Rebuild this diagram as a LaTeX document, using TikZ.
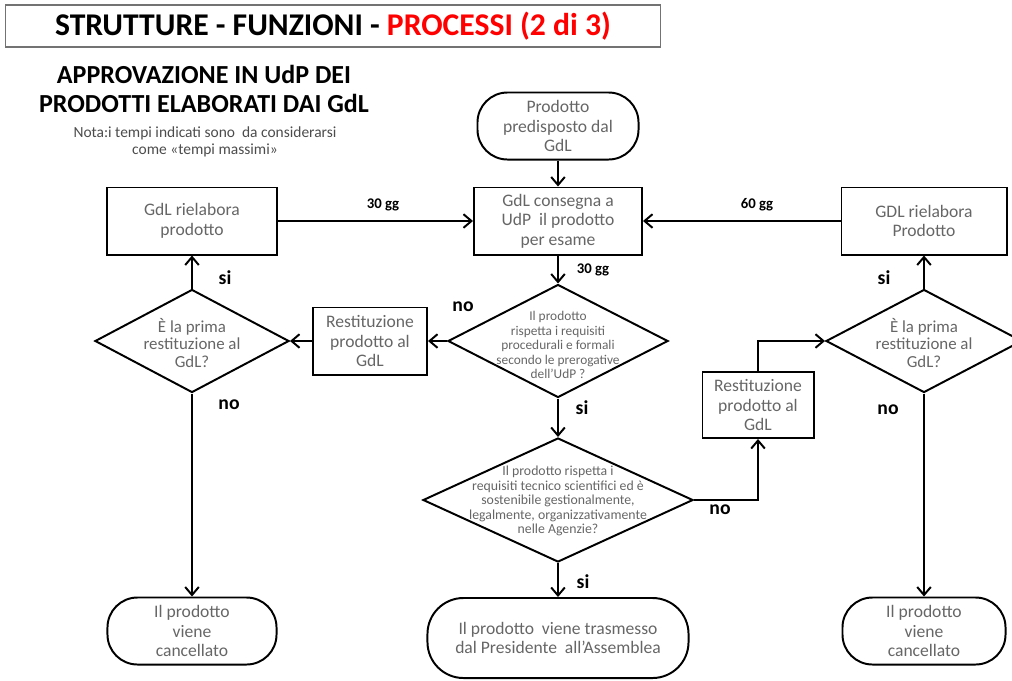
\documentclass[tikz,border=0pt]{standalone}
\usepackage{fontspec}
\setmainfont{Carlito}
\usetikzlibrary{shapes.geometric,arrows.meta,positioning}

\tikzset{
    >={Straight Barb[length=2mm,width=3.4mm]},
    link/.style={->, line width=1.4pt},
    box/.style={draw, rectangle, line width=1.4pt, align=center, inner sep=2pt,
        text=black!60, font=\fontsize{12.5}{14}\selectfont},
    term/.style={box, rounded corners=0.75cm},
    decision/.style={draw, diamond, line width=1.4pt, inner sep=0pt},
    dtext/.style={align=center, text=black!60},
    tag/.style={font=\bfseries\fontsize{14}{16}\selectfont},
    gg/.style={font=\bfseries\fontsize{10.5}{12}\selectfont},
}

\begin{document}
\begin{tikzpicture}[x=0.025cm, y=-0.025cm]
    \useasboundingbox (0,0) rectangle (1012,680);

    % titolo e nota
    \node[draw=black!55, line width=0.8pt, minimum width=16.375cm, minimum height=1.05cm,
        font=\bfseries\fontsize{22.5}{26}\selectfont] (title) at (333,26)
        {STRUTTURE - FUNZIONI - \textcolor{red}{PROCESSI (2 di 3)}};
    \node[align=center, font=\bfseries\fontsize{18.5}{20}\selectfont] (head) at (204,89)
        {APPROVAZIONE IN UdP DEI\\PRODOTTI ELABORATI DAI GdL};
    \node[align=center, text=black!70, font=\fontsize{11}{12.5}\selectfont] (nota) at (205,142)
        {Nota:i tempi indicati sono~ da considerarsi\\come «tempi massimi»};

    % colonna centrale
    \node[term, minimum width=4.025cm, minimum height=1.675cm] (start) at (558,126)
        {Prodotto\\predisposto dal\\GdL};
    \node[box, minimum width=4.2cm, minimum height=1.675cm] (consegna) at (558,221)
        {GdL consegna a\\UdP~ il prodotto\\per esame};
    \node[decision, minimum width=5.5cm, minimum height=2.825cm] (check1) at (558,341) {};
    \node[dtext, font=\fontsize{9.5}{10.3}\selectfont] (check1txt) at (558,345)
        {Il prodotto\\rispetta i requisiti\\procedurali e formali\\secondo le prerogative\\dell'UdP ?};
    \node[decision, minimum width=6.75cm, minimum height=3.1cm] (check2) at (558,500) {};
    \node[dtext, font=\fontsize{9.8}{10.3}\selectfont] (check2txt) at (558,501)
        {Il prodotto rispetta i\\requisiti tecnico scientifici ed è\\sostenibile gestionalmente,\\legalmente, organizzativamente\\nelle Agenzie?};
    \node[term, rounded corners=0.9cm, minimum width=6.525cm, minimum height=2cm] (fineM) at (558,638)
        {Il prodotto~ viene trasmesso\\dal Presidente~ all'Assemblea};

    % ramo sinistro
    \node[box, minimum width=4.25cm, minimum height=1.675cm] (rielL) at (192,221)
        {GdL rielabora\\prodotto};
    \node[box, minimum width=2.85cm, minimum height=1.675cm] (restL) at (370,341)
        {Restituzione\\prodotto al\\GdL};
    \node[decision, minimum width=4.85cm, minimum height=2.575cm] (primaL) at (192,341) {};
    \node[dtext, font=\fontsize{12}{12.5}\selectfont] (primaLtxt) at (192,343)
        {È la prima\\restituzione al\\GdL?};
    \node[term, minimum width=4.225cm, minimum height=1.675cm] (fineL) at (192,631)
        {Il prodotto\\viene\\cancellato};

    % ramo destro
    \node[box, minimum width=4.125cm, minimum height=1.675cm] (rielR) at (924,221)
        {GDL rielabora\\Prodotto};
    \node[box, minimum width=2.775cm, minimum height=1.65cm] (restR) at (758,405)
        {Restituzione\\prodotto al\\GdL};
    \node[decision, minimum width=4.9cm, minimum height=2.575cm] (primaR) at (924,341) {};
    \node[dtext, font=\fontsize{12}{12.5}\selectfont] (primaRtxt) at (924,343)
        {È la prima\\restituzione al\\GdL?};
    \node[term, minimum width=4.075cm, minimum height=1.675cm] (fineR) at (924,631)
        {Il prodotto\\viene\\cancellato};

    % collegamenti
    \draw[link] (start) -- (consegna);
    \draw[link] (rielL) -- (consegna);
    \draw[link] (rielR) -- (consegna);
    \draw[link] (consegna) -- (check1);
    \draw[link] (check1.west) -- (restL);
    \draw[link] (restL) -- (primaL.east);
    \draw[link] (primaL.north) -- (rielL);
    \draw[link] (primaL.south) -- (fineL);
    \draw[link] (check1.south) -- (check2.north);
    \draw[link] (check2.south) -- (fineM);
    \draw[link] (check2.east) -- (check2.east -| restR) -- (restR.south);
    \draw[link] (restR.north) |- (primaR.west);
    \draw[link] (primaR.north) -- (rielR);
    \draw[link] (primaR.south) -- (fineR);

    % etichette
    \node[gg] (gg1) at (383,205) {30 gg};
    \node[gg] (gg2) at (757,205) {60 gg};
    \node[gg] (gg3) at (593,270) {30 gg};
    \node[tag] (no1) at (463,307) {no};
    \node[tag] (si1) at (582,408) {si};
    \node[tag] (siL) at (225,278) {si};
    \node[tag] (noL) at (229,405) {no};
    \node[tag] (no2) at (720,510) {no};
    \node[tag] (si2) at (583,582) {si};
    \node[tag] (siR) at (884,278) {si};
    \node[tag] (noR) at (888,410) {no};
\end{tikzpicture}
\end{document}
